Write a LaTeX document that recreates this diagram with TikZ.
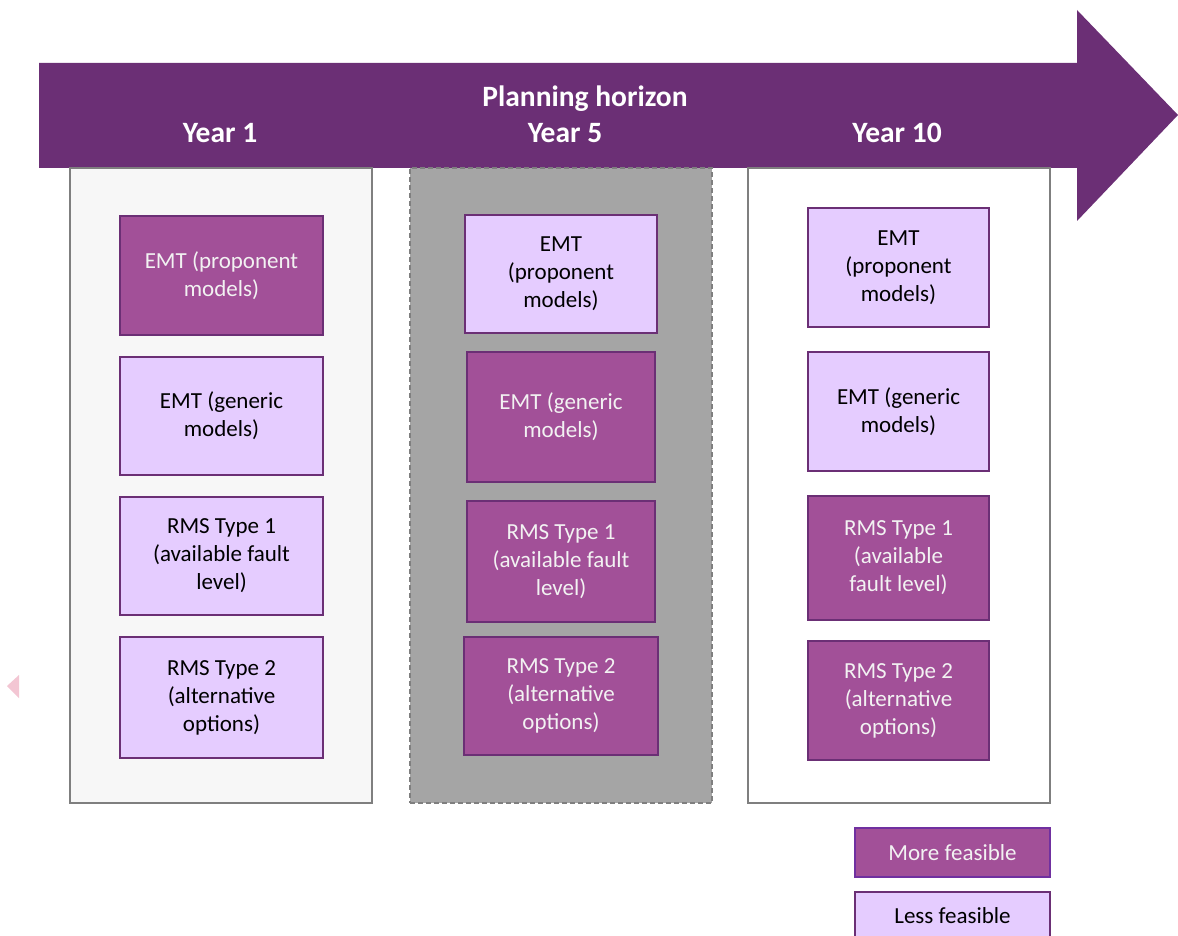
\documentclass[tikz,border=0pt]{standalone}
\usepackage{fontspec}
\setmainfont{Carlito}
\definecolor{arrowpurple}{HTML}{6B2F75}
\definecolor{morefill}{HTML}{A25098}
\definecolor{lessfill}{HTML}{E5CCFF}
\definecolor{boxborder}{HTML}{6B2F75}
\definecolor{legborder}{HTML}{7030A0}
\definecolor{colgray}{HTML}{7F7F7F}
\definecolor{colfillA}{HTML}{F7F7F7}
\definecolor{colfillB}{HTML}{A5A5A5}
\definecolor{pinktri}{HTML}{F3C6D3}
\definecolor{lighttext}{HTML}{F2F2F2}
\tikzset{
  feasbox/.style={draw=boxborder, line width=2.5pt, rectangle, align=center, inner sep=2pt,
    font=\fontsize{23}{28}\selectfont},
  more/.style={feasbox, fill=morefill, text=lighttext},
  less/.style={feasbox, fill=lessfill, text=black},
  column/.style={draw=colgray, line width=2pt, rectangle, inner sep=0pt},
  headtext/.style={text=white, font=\fontsize{29.5}{34}\selectfont\bfseries, inner sep=0pt},
}
\begin{document}
\begin{tikzpicture}[x=1pt,y=-1pt]
\useasboundingbox (0,0) rectangle (1178,936);
% planning horizon arrow
\fill[arrowpurple] (39,63) -- (1077,63) -- (1077,10) -- (1178,115) -- (1077,221) -- (1077,168) -- (39,168) -- cycle;
% pink marker
\fill[pinktri] (7,686) -- (19,675) -- (19,698) -- cycle;
% columns
\node[column, fill=colfillA, minimum width=302pt, minimum height=635pt] (c1) at (221,485.5) {};
\node[column, fill=colfillB, dashed, dash pattern=on 5pt off 3pt, minimum width=302pt, minimum height=635pt] (c2) at (561,485.5) {};
\node[column, fill=white, minimum width=302pt, minimum height=635pt] (c3) at (899,485.5) {};
% header texts
\node[headtext] (ph) at (585,99) {Planning horizon};
\node[headtext] (y1) at (220,133) {Year 1};
\node[headtext] (y5) at (565,133) {Year 5};
\node[headtext] (y10) at (897,133) {Year 10};
% column 1
\node[more, minimum width=203pt, minimum height=119pt] (a1) at (221.5,275.5) {EMT (proponent\\models)};
\node[less, minimum width=203pt, minimum height=118pt] (a2) at (221.5,416) {EMT (generic\\models)};
\node[less, minimum width=203pt, minimum height=118pt] (a3) at (221.5,556) {RMS Type 1\\(available fault\\level)};
\node[less, minimum width=203pt, minimum height=121pt] (a4) at (221.5,697.5) {RMS Type 2\\(alternative\\options)};
% column 2
\node[less, minimum width=192pt, minimum height=118pt] (b1) at (561,274) {EMT\\(proponent\\models)};
\node[more, minimum width=188pt, minimum height=130pt] (b2) at (561,417) {EMT (generic\\models)};
\node[more, minimum width=188pt, minimum height=121pt] (b3) at (561,561.5) {RMS Type 1\\(available fault\\level)};
\node[more, minimum width=194pt, minimum height=118pt] (b4) at (561,696) {RMS Type 2\\(alternative\\options)};
% column 3
\node[less, minimum width=181pt, minimum height=119pt] (d1) at (898.5,267.5) {EMT\\(proponent\\models)};
\node[less, minimum width=181pt, minimum height=119pt] (d2) at (898.5,411.5) {EMT (generic\\models)};
\node[more, minimum width=181pt, minimum height=124pt] (d3) at (898.5,558) {RMS Type 1\\(available\\fault level)};
\node[more, minimum width=181pt, minimum height=119pt] (d4) at (898.5,700.5) {RMS Type 2\\(alternative\\options)};
% legend
\node[more, draw=legborder, minimum width=195pt, minimum height=49pt] (lm) at (952.5,852.5) {More feasible};
\node[less, minimum width=195pt, minimum height=52pt] (ll) at (952.5,918) {};
\node[font=\fontsize{23}{28}\selectfont, text=black, inner sep=0pt] (lt) at (952.5,916) {Less feasible};
\end{tikzpicture}
\end{document}
